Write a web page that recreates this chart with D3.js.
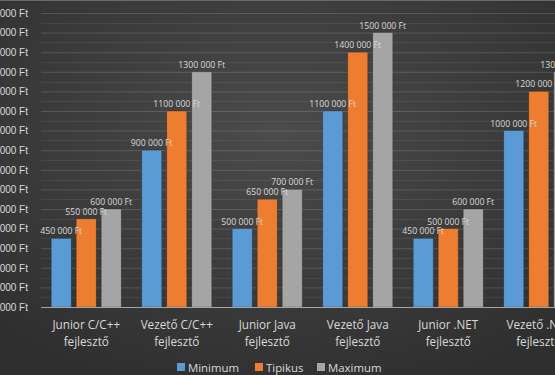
<!DOCTYPE html>
<html>
<head>
<meta charset="utf-8">
<script src="https://cdn.jsdelivr.net/npm/d3@7"></script>
<style>
  html, body { margin: 0; padding: 0; background: #3a3a3a; overflow: hidden; }
  svg { display: block; font-family: "Open Sans", sans-serif; }
</style>
</head>
<body>
<div id="chart"></div>
<script>
const categories = [
    ["Junior C/C++", "fejlesztő"],
    ["Vezető C/C++", "fejlesztő"],
    ["Junior Java", "fejlesztő"],
    ["Vezető Java", "fejlesztő"],
    ["Junior .NET", "fejlesztő"],
    ["Vezető .NET", "fejlesztő"]
];
const seriesNames = ["Minimum", "Tipikus", "Maximum"];
const minimum = [450000, 900000, 500000, 1100000, 450000, 1000000];
const tipikus = [550000, 1100000, 650000, 1400000, 500000, 1200000];
const maximum = [600000, 1300000, 700000, 1500000, 600000, 1300000];
const yTicks = d3.range(100000, 1600001, 100000);
const colors = ["#5b9bd5", "#ed7d31", "#a5a5a5"];

const W = 555, H = 375;
const plotLeft = 41, bandW = 90.5;
const yBottom = 307, yTop = 13;

const fmt = v => {
    const s = String(v);
    return s.slice(0, -3) + " " + s.slice(-3) + " Ft";
};

const svg = d3.select("#chart").append("svg")
    .attr("width", W)
    .attr("height", H);

// background
const defs = svg.append("defs");
const grad = defs.append("radialGradient")
    .attr("id", "bg")
    .attr("cx", "50%").attr("cy", "35%").attr("r", "75%");
grad.append("stop").attr("offset", "0%").attr("stop-color", "#4b4b4b");
grad.append("stop").attr("offset", "100%").attr("stop-color", "#2e2e2e");
svg.append("rect").attr("width", W).attr("height", H).attr("fill", "url(#bg)");
svg.append("line")
    .attr("x1", 0).attr("x2", W).attr("y1", 0.5).attr("y2", 0.5)
    .attr("stroke", "#6a6a6a");

const keys = categories.map(d => d.join(" "));
const x0 = d3.scaleBand()
    .domain(keys)
    .range([plotLeft, plotLeft + bandW * keys.length]);
const x1 = d3.scaleBand()
    .domain(seriesNames)
    .range([0, x0.bandwidth()])
    .paddingInner(0.2)
    .paddingOuter(0.41);
const y = d3.scaleLinear()
    .domain([100000, 1600000])
    .range([yBottom, yTop]);

// minor gridlines
svg.append("g")
    .selectAll("line")
    .data(d3.range(150000, 1600000, 100000))
    .join("line")
    .attr("x1", plotLeft).attr("x2", W)
    .attr("y1", d => Math.round(y(d)) + 0.5)
    .attr("y2", d => Math.round(y(d)) + 0.5)
    .attr("stroke", "#ffffff")
    .attr("stroke-opacity", 0.07);

// y axis with major gridlines
const yAxis = svg.append("g")
    .attr("transform", "translate(" + plotLeft + ",0)")
    .call(d3.axisLeft(y).tickValues(yTicks).tickFormat(fmt)
        .tickSize(-(W - plotLeft)).tickPadding(13));
yAxis.select(".domain").remove();
yAxis.selectAll(".tick line")
    .attr("stroke", "#ffffff")
    .attr("stroke-opacity", d => d === 100000 ? 0 : 0.15);
yAxis.selectAll(".tick text")
    .attr("fill", "#d9d9d9")
    .style("font-size", "10px");

// bars
const series = [minimum, tipikus, maximum];
const groups = svg.append("g")
    .selectAll("g")
    .data(keys)
    .join("g")
    .attr("transform", d => "translate(" + x0(d) + ",0)");

groups.selectAll("rect")
    .data((d, i) => seriesNames.map((s, j) => ({s: s, v: series[j][i], c: colors[j]})))
    .join("rect")
    .attr("x", d => x1(d.s))
    .attr("y", d => y(d.v))
    .attr("width", x1.bandwidth())
    .attr("height", d => y(100000) - y(d.v))
    .attr("fill", d => d.c)
    .attr("stroke", "rgba(0,0,0,0.25)")
    .attr("stroke-width", 0.8);

groups.selectAll("text")
    .data((d, i) => seriesNames.map((s, j) => ({s: s, v: series[j][i]})))
    .join("text")
    .attr("x", d => x1(d.s) + x1.bandwidth() / 2)
    .attr("y", d => y(d.v) - 4)
    .attr("text-anchor", "middle")
    .attr("fill", "#d9d9d9")
    .style("font-size", "8.7px")
    .text(d => fmt(d.v));

// baseline
svg.append("line")
    .attr("x1", plotLeft).attr("x2", W)
    .attr("y1", yBottom + 0.5).attr("y2", yBottom + 0.5)
    .attr("stroke", "#a6a6a6")
    .attr("stroke-width", 1);

// category labels
const catLabels = svg.append("g")
    .selectAll("text")
    .data(categories)
    .join("text")
    .attr("x", (d, i) => x0(keys[i]) + x0.bandwidth() / 2)
    .attr("y", 329)
    .attr("text-anchor", "middle")
    .attr("fill", "#d9d9d9")
    .style("font-size", "11.7px");
catLabels.selectAll("tspan")
    .data(d => d)
    .join("tspan")
    .attr("x", function () { return d3.select(this.parentNode).attr("x"); })
    .attr("dy", (d, i) => i === 0 ? 0 : 17)
    .text(d => d);

// legend
const legendX = [177, 255, 317];
const legend = svg.append("g")
    .selectAll("g")
    .data(seriesNames)
    .join("g")
    .attr("transform", (d, i) => "translate(" + legendX[i] + ",363)");
legend.append("rect")
    .attr("width", 8).attr("height", 8)
    .attr("fill", (d, i) => colors[i]);
legend.append("text")
    .attr("x", 11)
    .attr("y", 8.5)
    .attr("fill", "#d9d9d9")
    .style("font-size", "11.4px")
    .text(d => d);
</script>
</body>
</html>
